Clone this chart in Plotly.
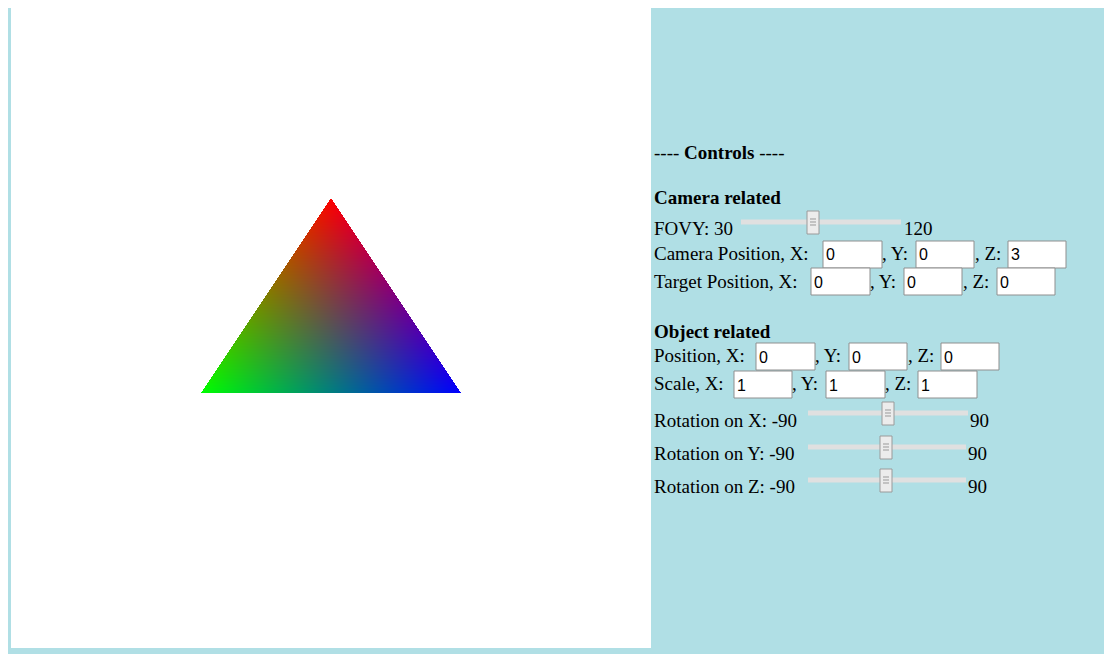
import numpy as np
import plotly.graph_objects as go

# page offset (body margin) and figure size
OFF = 8
W, H = 1096, 646

# triangle vertices (page px) and their colours
vert_x = [331, 201, 461]
vert_y = [198, 393, 393]
vert_rgb = [[255, 0, 0], [0, 255, 0], [0, 0, 255]]

# render the vertex-coloured triangle as an image (barycentric blend)
x0, x1, y0, y1 = 195, 467, 192, 399
xs = np.arange(x0, x1) + 0.5
ys = np.arange(y0, y1) + 0.5
gx, gy = np.meshgrid(xs, ys)
(ax, bx, cx), (ay, by, cy) = vert_x, vert_y
den = (by - cy) * (ax - cx) + (cx - bx) * (ay - cy)
l1 = ((by - cy) * (gx - cx) + (cx - bx) * (gy - cy)) / den
l2 = ((cy - ay) * (gx - cx) + (ax - cx) * (gy - cy)) / den
l3 = 1 - l1 - l2
inside = (l1 >= 0) & (l2 >= 0) & (l3 >= 0)
cols = np.array(vert_rgb, dtype=float)
img = l1[..., None] * cols[0] + l2[..., None] * cols[1] + l3[..., None] * cols[2]
img[~inside] = 255
img = img.clip(0, 255).astype(np.uint8)

fig = go.Figure(go.Image(z=img, x0=x0 + 0.5, y0=y0 + 0.5, dx=1, dy=1, hoverinfo="skip"))

shapes = []
annotations = []
SERIF = "Liberation Serif"


def px(x):
    return (x - OFF) / W


def py(y):
    return 1 - (y - OFF) / H


def text(x, y, s, size=19, family=SERIF):
    annotations.append(dict(x=px(x), y=py(y), xref="paper", yref="paper", text=s,
                            showarrow=False, xanchor="left", yanchor="middle", xshift=-2,
                            font=dict(family=family, size=size, color="black")))


def box(x, y_top, w, value):
    shapes.append(dict(type="rect", xref="paper", yref="paper", x0=px(x), x1=px(x + w),
                       y0=py(y_top + 27), y1=py(y_top), fillcolor="white",
                       line=dict(color="#8f8f8f", width=1)))
    text(x + 3, y_top + 14, value, size=16, family="Liberation Sans")


def slider(x_start, x_end, y, thumb):
    shapes.append(dict(type="rect", xref="paper", yref="paper", x0=px(x_start), x1=px(x_end),
                       y0=py(y + 2.5), y1=py(y - 2.5), fillcolor="#e0e0e0", line=dict(width=0)))
    shapes.append(dict(type="rect", xref="paper", yref="paper", x0=px(thumb - 6), x1=px(thumb + 6),
                       y0=py(y + 12), y1=py(y - 11), fillcolor="#ececec",
                       line=dict(color="#9a9a9a", width=1)))
    for d in (-3, 0, 3):
        shapes.append(dict(type="line", xref="paper", yref="paper", x0=px(thumb - 3), x1=px(thumb + 3),
                           y0=py(y + d), y1=py(y + d), line=dict(color="#999", width=1)))


# white canvas
shapes.append(dict(type="rect", xref="paper", yref="paper", x0=px(11), x1=px(651),
                   y0=py(648), y1=py(8), fillcolor="white", line=dict(width=0), layer="below"))

text(654, 152, "---- <b>Controls</b> ----")
text(654, 197, "<b>Camera related</b>")
text(654, 229, "FOVY: 30")
slider(741, 901, 222, 813)
text(904, 229, "120")

text(654, 254, "Camera Position, X:")
box(823, 241, 59, "0")
text(882, 254, ", Y:")
box(916, 241, 58, "0")
text(975, 254, ", Z:")
box(1008, 241, 58, "3")

text(654, 281, "Target Position, X:")
box(811, 268, 59, "0")
text(870, 281, ", Y:")
box(904, 268, 58, "0")
text(963, 281, ", Z:")
box(997, 268, 58, "0")

text(654, 331, "<b>Object related</b>")
text(654, 355, "Position, X:")
box(756, 343, 59, "0")
text(815, 355, ", Y:")
box(849, 343, 58, "0")
text(908, 355, ", Z:")
box(941, 343, 58, "0")

text(654, 383, "Scale, X:")
box(734, 371, 58, "1")
text(792, 383, ", Y:")
box(826, 371, 59, "1")
text(885, 383, ", Z:")
box(918, 371, 59, "1")

text(654, 420, "Rotation on X: -90")
slider(808, 968, 413, 888)
text(970, 420, "90")
text(654, 453, "Rotation on Y: -90")
slider(808, 966, 447, 886)
text(968, 453, "90")
text(654, 486, "Rotation on Z: -90")
slider(808, 966, 480, 886)
text(968, 486, "90")

fig.update_layout(
    width=W, height=H, margin=dict(l=0, r=0, t=0, b=0),
    paper_bgcolor="#b0dfe5", plot_bgcolor="white",
    xaxis=dict(domain=[px(x0), px(x1)], range=[x0, x1], visible=False),
    yaxis=dict(domain=[py(y1), py(y0)], range=[y1, y0], visible=False),
    shapes=shapes, annotations=annotations, showlegend=False,
)
fig.write_html("out.html")
